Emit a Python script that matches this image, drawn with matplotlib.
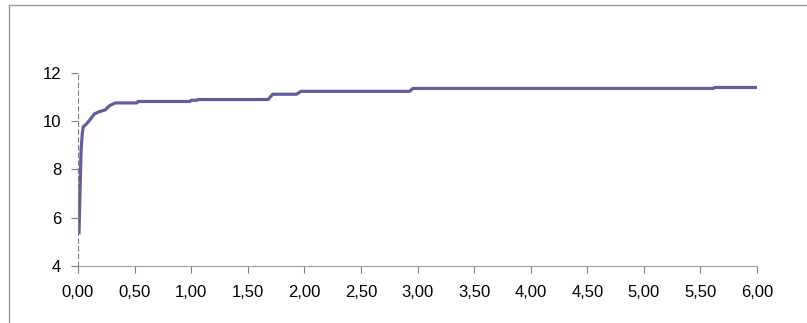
import matplotlib.pyplot as plt
from matplotlib.lines import Line2D
from matplotlib.ticker import FuncFormatter

plt.rcParams['font.family'] = ['Liberation Sans', 'DejaVu Sans']

# curve
t = [0.009, 0.018, 0.027, 0.038, 0.047, 0.06, 0.09, 0.12, 0.144, 0.19, 0.24,
     0.28, 0.33, 0.52, 0.53, 0.99, 1.00, 1.05, 1.06, 1.68, 1.72, 1.93, 1.97,
     2.93, 2.96, 5.61, 5.63, 6.00]
v = [5.38, 7.15, 8.8, 9.5, 9.78, 9.82, 9.97, 10.15, 10.3, 10.4, 10.47,
     10.65, 10.76, 10.76, 10.82, 10.82, 10.87, 10.87, 10.9, 10.9, 11.12, 11.12, 11.24,
     11.24, 11.36, 11.36, 11.40, 11.40]

x_ticks = [0, 0.5, 1, 1.5, 2, 2.5, 3, 3.5, 4, 4.5, 5, 5.5, 6]
y_ticks = [4, 6, 8, 10, 12]

fig = plt.figure(figsize=(8.07, 3.23), dpi=100)
ax = fig.add_axes([78/807, 57/323, 679/807, 193/323])

ax.plot(t, v, color='#5f5f9c', lw=2.3, solid_joinstyle='round')

ax.set_xlim(0, 6)
ax.set_ylim(4, 12)
ax.set_xticks(x_ticks)
ax.set_yticks(y_ticks)
ax.xaxis.set_major_formatter(FuncFormatter(lambda x, p: f'{x:.2f}'.replace('.', ',')))

for s in ['top', 'right']:
    ax.spines[s].set_visible(False)
ax.spines['bottom'].set_color('#a0a0a0')
ax.spines['left'].set_color('#808080')
ax.spines['left'].set_linestyle((0, (4, 3)))
ax.spines['left'].set_linewidth(0.8)
ax.tick_params(axis='both', colors='#808080', length=5, labelsize=12,
               labelcolor='black', width=0.8)
ax.tick_params(axis='x', pad=9)
ax.tick_params(axis='y', pad=7)

# outer frame (top and left edge)
fig.add_artist(Line2D([9/807, 1], [1 - 5/323, 1 - 5/323], color='#999999', lw=1))
fig.add_artist(Line2D([9/807, 9/807], [0, 1 - 5/323], color='#999999', lw=1))

fig.savefig('out.png', dpi=100)
